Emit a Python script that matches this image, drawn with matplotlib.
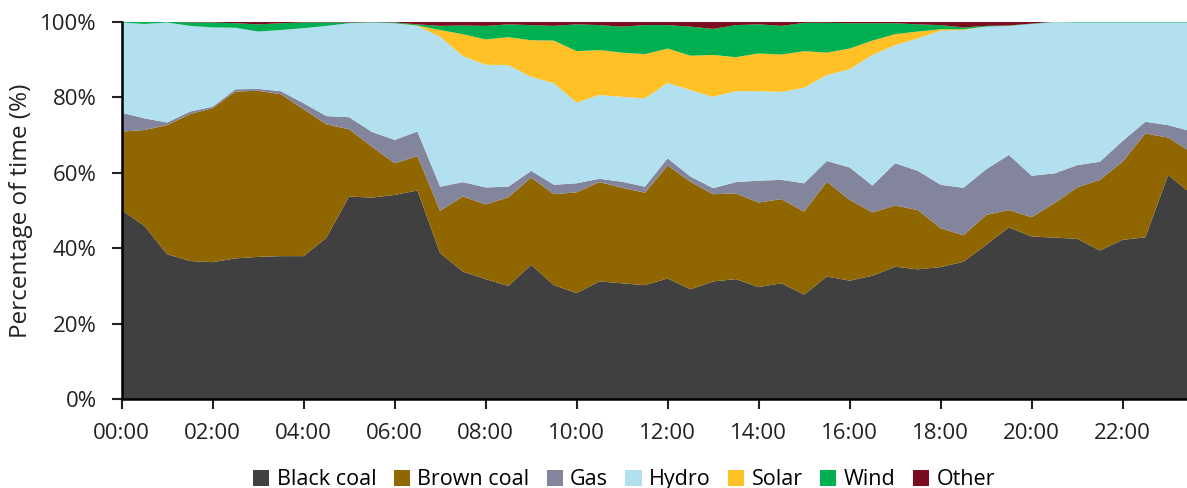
import numpy as np
import matplotlib
matplotlib.use('Agg')
import matplotlib.pyplot as plt
from matplotlib.ticker import FuncFormatter

plt.rcParams['font.family'] = ['Open Sans', 'DejaVu Sans']

# half-hour intervals, 00:00 .. 23:30
slots = np.arange(48)
tick_slots = np.arange(0, 48, 4)
tick_labels = [f"{h:02d}:00" for h in range(0, 24, 2)]

black_coal = [50.1, 45.9, 38.4, 36.6, 36.3, 37.3, 37.7, 37.9, 37.9, 42.8,
              53.7, 53.4, 54.1, 55.3, 38.7, 33.8, 31.8, 30.0, 35.6, 30.2,
              28.1, 31.2, 30.7, 30.2, 32.0, 29.1, 31.2, 31.8, 29.7, 30.7,
              27.7, 32.5, 31.4, 32.7, 35.1, 34.4, 35.0, 36.4, 40.9, 45.5,
              43.1, 42.8, 42.5, 39.4, 42.2, 42.9, 59.4, 54.5]
brown_coal = [20.8, 25.4, 34.2, 38.9, 40.8, 44.2, 44.0, 42.9, 38.9, 30.0,
              17.8, 13.5, 8.4, 9.1, 11.2, 19.9, 19.8, 23.5, 23.1, 24.1,
              26.7, 26.3, 25.3, 24.5, 29.9, 28.5, 23.1, 22.7, 22.4, 22.3,
              22.0, 25.1, 21.4, 16.8, 16.2, 15.7, 10.3, 7.0, 7.9, 4.6,
              5.1, 9.1, 13.6, 18.7, 20.7, 27.5, 9.9, 11.0]
gas = [5.0, 3.1, 0.7, 0.7, 0.4, 0.6, 0.5, 0.8, 1.6, 2.2,
       3.2, 3.9, 6.2, 6.5, 6.4, 3.8, 4.5, 2.8, 1.8, 2.5,
       2.4, 0.9, 1.6, 1.6, 1.9, 1.4, 1.6, 3.0, 5.8, 5.1,
       7.5, 5.5, 8.6, 7.1, 11.2, 10.4, 11.5, 12.6, 12.1, 14.6,
       11.0, 7.9, 5.9, 4.8, 5.5, 3.1, 3.3, 5.5]
hydro = [23.9, 25.0, 26.5, 22.7, 21.0, 16.3, 15.2, 16.2, 19.9, 23.9,
         24.9, 29.0, 30.9, 28.0, 39.7, 33.4, 32.5, 32.2, 24.9, 26.9,
         21.4, 22.2, 22.5, 23.4, 20.0, 22.9, 24.2, 24.1, 23.7, 23.3,
         25.3, 22.8, 26.0, 34.6, 31.3, 35.1, 40.8, 41.8, 37.8, 34.2,
         40.2, 40.1, 37.8, 36.9, 31.4, 26.3, 27.2, 28.8]
solar = [0, 0, 0, 0, 0, 0, 0, 0, 0, 0,
         0, 0, 0, 0.1, 1.8, 5.8, 6.7, 7.4, 9.7, 11.3,
         13.6, 11.9, 11.7, 11.7, 9.1, 9.1, 11.1, 9.0, 10.0, 9.9,
         9.7, 5.9, 5.5, 3.8, 2.9, 1.8, 0.4, 0.2, 0, 0,
         0, 0, 0, 0, 0, 0, 0, 0]
wind = [0.2, 0.6, 0.2, 0.9, 1.3, 1.2, 1.9, 1.8, 1.5, 0.9,
        0.2, 0.1, 0.2, 0.3, 1.1, 2.3, 3.6, 3.4, 4.0, 3.9,
        7.1, 6.6, 6.9, 7.7, 6.2, 7.7, 6.9, 8.5, 7.7, 7.6,
        7.5, 7.9, 6.7, 4.6, 2.9, 1.9, 1.1, 0.5, 0.2, 0.1,
        0.1, 0.1, 0.2, 0.2, 0.2, 0.2, 0.2, 0.2]
other = [0, 0, 0, 0.2, 0.2, 0.4, 0.7, 0.4, 0.2, 0.2,
         0.2, 0.1, 0.2, 0.7, 1.1, 1.0, 1.1, 0.7, 0.9, 1.1,
         0.7, 0.9, 1.3, 0.9, 0.9, 1.3, 1.9, 0.9, 0.7, 1.1,
         0.3, 0.3, 0.4, 0.4, 0.4, 0.7, 0.9, 1.5, 1.1, 1.0,
         0.5, 0, 0, 0, 0, 0, 0, 0]

labels = ['Black coal', 'Brown coal', 'Gas', 'Hydro', 'Solar', 'Wind', 'Other']
colors = ['#404040', '#8f6600', '#83859d', '#b2e0ee', '#ffc125', '#00b050', '#7b0c1e']

fig = plt.figure(figsize=(11.87, 4.88), dpi=100)
ax = fig.add_axes([0.1025, 0.182, 0.8975, 0.7735])

ax.stackplot(slots, black_coal, brown_coal, gas, hydro, solar, wind, other,
             labels=labels, colors=colors, linewidth=0)

ax.set_xlim(0, 46.83)
ax.set_ylim(0, 100)
ax.set_xticks(tick_slots)
ax.set_xticklabels(tick_labels)
ax.set_yticks(np.arange(0, 101, 20))
ax.yaxis.set_major_formatter(FuncFormatter(lambda v, _: f"{v:.0f}%"))
ax.tick_params(axis='both', labelsize=16, colors='#222222', width=1.5, length=7)
ax.tick_params(axis='x', pad=10)
ax.tick_params(axis='y', pad=11)
ax.set_ylabel('Percentage of time (%)', fontsize=17.5, color='#222222')
ax.yaxis.set_label_coords(-0.083, 0.5)

for s in ['top', 'right']:
    ax.spines[s].set_visible(False)
for s in ['left', 'bottom']:
    ax.spines[s].set_linewidth(1.8)

ax.legend(loc='upper center', bbox_to_anchor=(0.4715, -0.163),
          ncol=7, frameon=False, fontsize=15.5, handlelength=0.75, handleheight=0.75,
          handletextpad=0.35, columnspacing=0.8, borderaxespad=0)

fig.savefig('out.png', dpi=100)
